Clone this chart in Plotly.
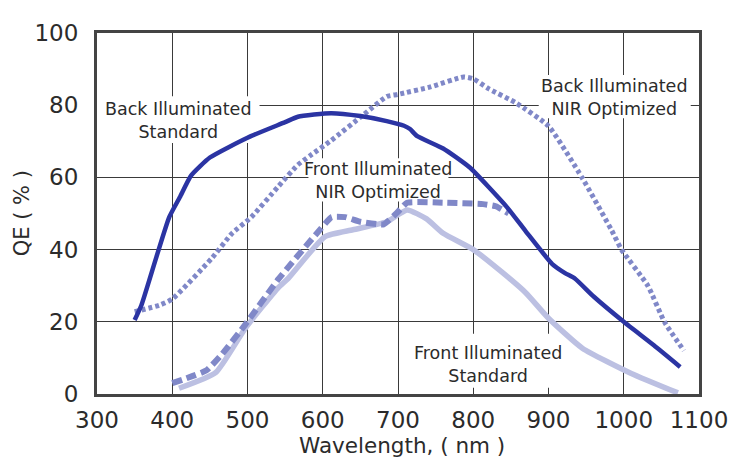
import plotly.graph_objects as go

# Back Illuminated Standard
bi_std_x = [350, 359, 379, 396, 410, 425, 450, 500, 550, 567, 611, 650, 685, 708, 716, 725, 760, 795, 845, 870, 905, 922, 935, 960, 1000, 1040, 1075]
bi_std_y = [20.5, 24.6, 38, 49, 54.5, 60.5, 65.5, 71, 75.3, 76.8, 77.8, 77, 75.6, 74.3, 73.4, 71.5, 68, 62.8, 51.7, 45, 36, 33.5, 32, 27, 20, 13.5, 7.5]

# Back Illuminated NIR Optimized
bi_nir_x = [350, 383, 400, 453, 479, 505, 541, 567, 583, 611, 655, 685, 700, 742, 787, 800, 821, 857, 900, 945, 984, 997, 1032, 1054, 1080]
bi_nir_y = [22.8, 24.6, 26.3, 37.7, 44.4, 49, 57.5, 63.5, 66, 70.2, 77.5, 82.4, 83, 85, 87.8, 87.3, 84.5, 80.6, 74.2, 59.8, 45.3, 40, 30, 20, 12]

# Front Illuminated NIR Optimized
fi_nir_x = [400, 445, 466, 497, 541, 590, 612, 630, 650, 681, 700, 712, 760, 813, 830, 847]
fi_nir_y = [3, 6.5, 11, 19.2, 31.8, 44, 49, 49, 47.7, 47, 50.5, 53, 53, 52.6, 52, 50]

# Front Illuminated Standard
fi_std_x = [409, 458, 497, 541, 554, 603, 640, 685, 712, 738, 760, 800, 839, 870, 900, 945, 1010, 1072]
fi_std_y = [1.6, 6, 18.2, 29.5, 32, 43.6, 45.5, 47.7, 51, 48.5, 44.5, 40, 33.6, 28, 21, 12.7, 5.7, 0.3]

x_ticks = [300, 400, 500, 600, 700, 800, 900, 1000, 1100]
y_ticks = [0, 20, 40, 60, 80, 100]

# curve labels (text, x, y)
label_text = ["Back Illuminated<br>Standard", "Front Illuminated<br>NIR Optimized",
              "Back Illuminated<br>NIR Optimized", "Front Illuminated<br>Standard"]
label_x = [408, 674, 988, 820]
label_y = [75.9, 59.1, 82.1, 8.3]

# white backing boxes behind the labels (half-sizes in axis units), drawn under the curves
box_half_w = [108, 93, 101, 105]
box_half_h = [6.5, 6.0, 6.0, 7.5]
box_dy = [0.1, 0.2, 0.3, 0.9]

DARK = "#2b34a3"
MED = "#8088c8"
LIGHT = "#bcc0e2"
TXT = "#2b2b2b"
FONT = "DejaVu Sans"

fig = go.Figure()
fig.add_trace(go.Scatter(x=fi_std_x, y=fi_std_y, mode="lines",
                         line=dict(color=LIGHT, width=5.5, shape="spline", smoothing=0.5), name="Front Illuminated Standard"))
fig.add_trace(go.Scatter(x=fi_nir_x, y=fi_nir_y, mode="lines",
                         line=dict(color=MED, width=6, dash="10px,5px", shape="spline", smoothing=0.4), name="Front Illuminated NIR Optimized"))
fig.add_trace(go.Scatter(x=bi_nir_x, y=bi_nir_y, mode="lines",
                         line=dict(color=MED, width=5, dash="4px,3px", shape="spline", smoothing=0.5), name="Back Illuminated NIR Optimized"))
fig.add_trace(go.Scatter(x=bi_std_x, y=bi_std_y, mode="lines",
                         line=dict(color=DARK, width=4.5, shape="spline", smoothing=0.5), name="Back Illuminated Standard"))

for text, x, y, hw, hh, dy in zip(label_text, label_x, label_y, box_half_w, box_half_h, box_dy):
    fig.add_shape(type="rect", xref="x", yref="y", layer="between",
                  x0=x - hw, x1=x + hw, y0=y + dy - hh, y1=y + dy + hh,
                  fillcolor="white", line=dict(width=0))
    fig.add_annotation(x=x, y=y, text=text, showarrow=False, xref="x", yref="y",
                       xanchor="center", yanchor="middle",
                       font=dict(family=FONT, size=17.5, color=TXT), align="center")

fig.add_annotation(x=0.506, y=-0.1789, xref="paper", yref="paper", yanchor="bottom", xanchor="center",
                   text="Wavelength, ( nm )", showarrow=False, borderpad=0,
                   font=dict(family=FONT, size=21.5, color=TXT))
fig.add_annotation(x=-0.125, y=0.5, xref="paper", yref="paper", xanchor="center", yanchor="middle",
                   text="QE ( % )", showarrow=False, textangle=-90,
                   font=dict(family=FONT, size=21, color=TXT))

axis_common = dict(showgrid=True, gridcolor="#3a3a3a", gridwidth=1,
                   showline=True, linecolor="#444444", linewidth=3, mirror=True,
                   zeroline=False, ticks="", tickfont=dict(family=FONT, size=23, color=TXT))
fig.update_xaxes(range=[300, 1100], tickvals=x_ticks, ticktext=[str(v) for v in x_ticks],
                 ticklabelstandoff=3, **axis_common)
fig.update_yaxes(range=[0, 100], tickvals=y_ticks, ticktext=[str(v) for v in y_ticks],
                 ticklabelstandoff=11, **axis_common)

# page body has an 8px default margin, so the figure is sized to fit the 740x460 window
fig.update_layout(width=732, height=452, margin=dict(l=89, r=35, t=17, b=66),
                  plot_bgcolor="white", paper_bgcolor="white", showlegend=False)

fig.write_html("out.html")
